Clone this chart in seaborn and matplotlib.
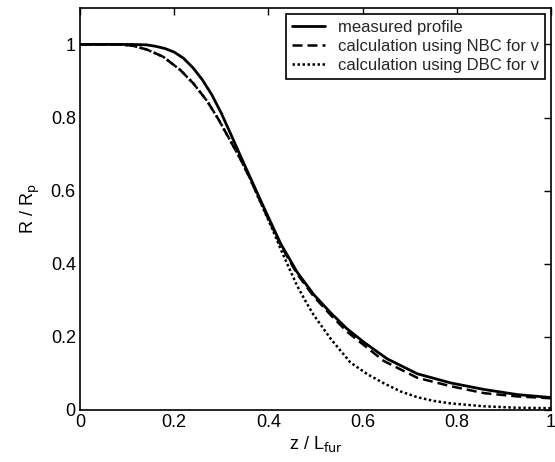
import numpy as np
import pandas as pd
import matplotlib
matplotlib.use("Agg")
import matplotlib.pyplot as plt
import seaborn as sns

sns.set_theme(style="white")
plt.rcParams['font.family'] = ['Liberation Sans', 'DejaVu Sans']

x_meas = [0.0, 0.10, 0.14, 0.16, 0.18, 0.20, 0.22, 0.24, 0.26, 0.28, 0.30, 0.32, 0.34, 0.36,
          0.39, 0.426, 0.461, 0.496, 0.532, 0.567, 0.603, 0.652, 0.716, 0.787, 0.858, 0.929, 1.0]
y_meas = [1.0, 1.0, 0.999, 0.995, 0.989, 0.979, 0.962, 0.936, 0.903, 0.862, 0.812, 0.755, 0.697, 0.64,
          0.555, 0.455, 0.377, 0.316, 0.266, 0.222, 0.185, 0.14, 0.099, 0.074, 0.056, 0.042, 0.034]

x_nbc = [0.0, 0.08, 0.11, 0.142, 0.177, 0.213, 0.241, 0.27, 0.294, 0.319, 0.34, 0.36,
         0.39, 0.426, 0.461, 0.496, 0.532, 0.567, 0.603, 0.645, 0.716, 0.787, 0.858, 0.929, 1.0]
y_nbc = [1.0, 1.0, 0.997, 0.986, 0.966, 0.93, 0.893, 0.845, 0.795, 0.737, 0.688, 0.636,
         0.55, 0.451, 0.372, 0.311, 0.26, 0.214, 0.177, 0.134, 0.088, 0.065, 0.046, 0.037, 0.032]

x_dbc = [0.0, 0.08, 0.11, 0.142, 0.177, 0.213, 0.241, 0.27, 0.294, 0.319, 0.34, 0.36,
         0.39, 0.41, 0.426, 0.445, 0.461, 0.48, 0.496, 0.532, 0.574, 0.61, 0.645, 0.68, 0.716,
         0.75, 0.787, 0.858, 0.929, 1.0]
y_dbc = [1.0, 1.0, 0.997, 0.986, 0.966, 0.93, 0.893, 0.845, 0.795, 0.737, 0.688, 0.636,
         0.548, 0.49, 0.44, 0.385, 0.34, 0.295, 0.26, 0.195, 0.13, 0.098, 0.073, 0.051, 0.035,
         0.025, 0.018, 0.01, 0.006, 0.005]

labels = ["measured profile", "calculation using NBC for v", "calculation using DBC for v"]

df = pd.concat([
    pd.DataFrame({"x": x_meas, "y": y_meas, "series": labels[0]}),
    pd.DataFrame({"x": x_nbc, "y": y_nbc, "series": labels[1]}),
    pd.DataFrame({"x": x_dbc, "y": y_dbc, "series": labels[2]}),
])

fig = plt.figure(figsize=(5.55, 4.62), dpi=100)
ax = fig.add_axes([0.144, 0.1126, 0.849, 0.8704])

styles = {labels[0]: dict(ls="-", lw=2.0), labels[1]: dict(ls=(0, (4, 2)), lw=1.8),
          labels[2]: dict(ls=(0, (1, 1)), lw=1.8)}
for lab in labels:
    sub = df[df.series == lab]
    sns.lineplot(data=sub, x="x", y="y", ax=ax, color="black", label=lab,
                 estimator=None, sort=False, **styles[lab])

ax.set_xlim(0, 1)
ax.set_ylim(0, 1.1)
ax.set_xticks([0, 0.2, 0.4, 0.6, 0.8, 1])
ax.set_xticklabels(["0", "0.2", "0.4", "0.6", "0.8", "1"])
ax.set_yticks([0, 0.2, 0.4, 0.6, 0.8, 1])
ax.set_yticklabels(["0", "0.2", "0.4", "0.6", "0.8", "1"])
ax.tick_params(direction="in", length=5, width=1, top=True, right=True,
               labelsize=13, colors="black", pad=3)
for s in ax.spines.values():
    s.set_color("black")
    s.set_linewidth(1.2)
ax.set_xlabel(r"z / L$_{\mathrm{fur}}$", fontsize=13, color="black", labelpad=2)
ax.set_ylabel(r"R / R$_{\mathrm{p}}$", fontsize=13, color="black", labelpad=6)

leg = ax.legend(loc="upper right", fontsize=12, frameon=True, fancybox=False,
                edgecolor="black", handlelength=2.0, borderaxespad=0.35,
                borderpad=0.35, labelspacing=0.25, handletextpad=0.8)
leg.get_frame().set_linewidth(1.2)
leg.get_frame().set_alpha(1)

fig.savefig("out.png", dpi=100)
